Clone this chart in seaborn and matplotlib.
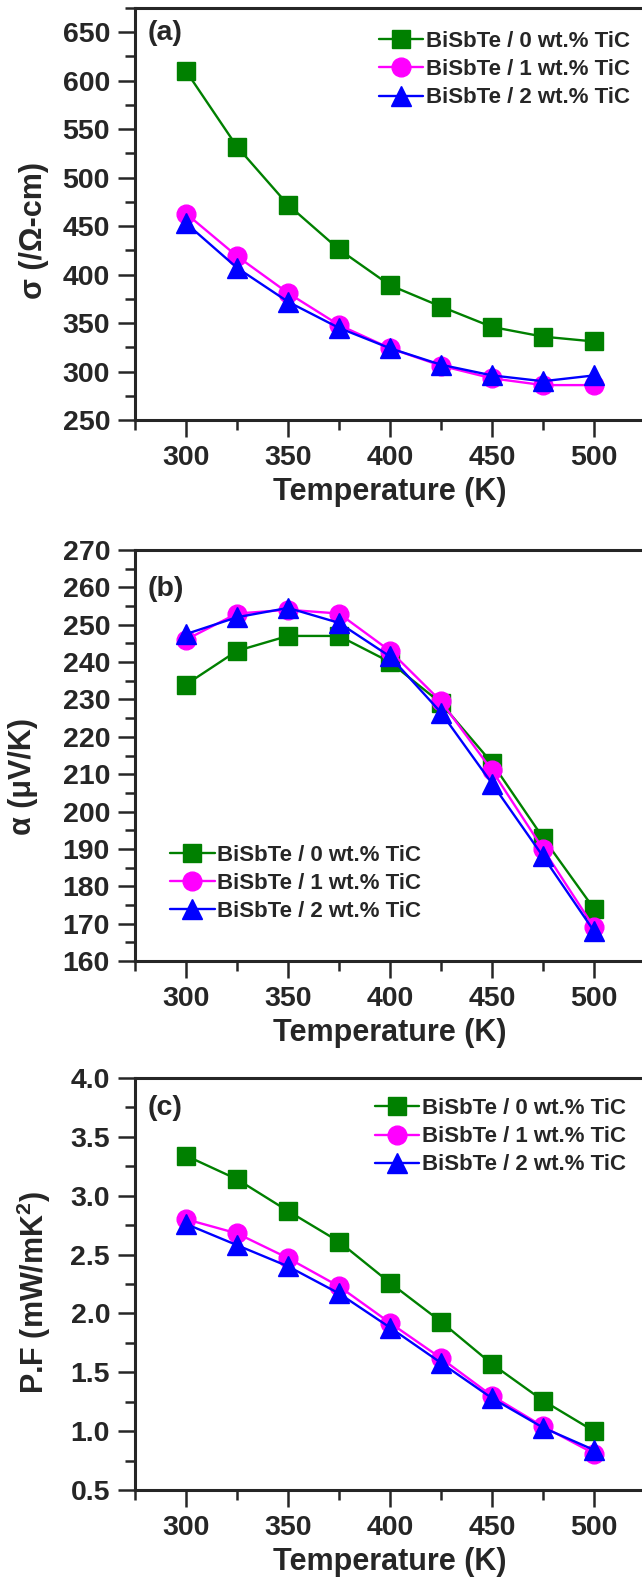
import numpy as np
import pandas as pd
import matplotlib
matplotlib.use('Agg')
import matplotlib.pyplot as plt
import seaborn as sns
from matplotlib.ticker import MultipleLocator

# datos
temperature = [300, 325, 350, 375, 400, 425, 450, 475, 500]
labels = ['BiSbTe / 0 wt.% TiC', 'BiSbTe / 1 wt.% TiC', 'BiSbTe / 2 wt.% TiC']

sigma_0 = [610, 532, 472, 426, 389, 367, 346, 336, 331]
sigma_1 = [463, 419, 381, 348, 324, 306, 293, 286, 286]
sigma_2 = [453, 407, 372, 345, 324, 307, 296, 290, 296]

alpha_0 = [234, 243, 247, 247, 240, 229, 213, 193, 174]
alpha_1 = [246, 253, 254, 253, 243, 229.5, 211, 190, 169]
alpha_2 = [247.5, 252, 254.5, 250.5, 241.5, 226.5, 207.5, 188, 168]

pf_0 = [3.34, 3.14, 2.87, 2.61, 2.26, 1.93, 1.57, 1.26, 1.00]
pf_1 = [2.80, 2.68, 2.47, 2.23, 1.92, 1.62, 1.30, 1.04, 0.81]
pf_2 = [2.76, 2.58, 2.40, 2.17, 1.88, 1.58, 1.28, 1.03, 0.84]

colors = ['#008000', '#ff00ff', '#0000ff']
markers = ['s', 'o', '^']
msizes = [13, 13.5, 15]

sns.set_style('ticks')
plt.rcParams['font.family'] = ['Liberation Sans', 'DejaVu Sans']
plt.rcParams['font.weight'] = 'bold'
plt.rcParams['axes.labelweight'] = 'bold'
plt.rcParams['mathtext.fontset'] = 'custom'
plt.rcParams['mathtext.rm'] = 'Liberation Sans:bold'
plt.rcParams['mathtext.bf'] = 'Liberation Sans:bold'

W, H = 642, 1580
fig = plt.figure(figsize=(W / 100, H / 100), dpi=100)


def make_axes(top_px, bottom_px):
    left = 135 / W
    width = 510 / W
    return fig.add_axes([left, 1 - bottom_px / H, width, (bottom_px - top_px) / H])


def draw_panel(ax, series, ylim, ymajor, yminor, ylabel, tag, tagy, leg_loc, leg_anchor, ylab_xy):
    for vals, lab, c, m, ms in zip(series, labels, colors, markers, msizes):
        df = pd.DataFrame({'T': temperature, 'v': vals})
        sns.lineplot(data=df, x='T', y='v', ax=ax, color=c, marker=m, markersize=ms,
                     markeredgecolor=c, markeredgewidth=1, linewidth=1.7, label=lab)
    ax.set_xlim(275, 525)
    ax.set_ylim(*ylim)
    ax.xaxis.set_major_locator(MultipleLocator(50))
    ax.xaxis.set_minor_locator(MultipleLocator(25))
    ax.yaxis.set_major_locator(MultipleLocator(ymajor))
    ax.yaxis.set_minor_locator(MultipleLocator(yminor))
    ax.tick_params(which='major', direction='out', length=12, width=1.8, labelsize=20.5, pad=6)
    ax.tick_params(which='minor', direction='out', length=7, width=1.8)
    ax.tick_params(axis='x', which='major', pad=6)
    ax.spines['right'].set_visible(False)
    for s in ax.spines.values():
        s.set_linewidth(2.2)
    ax.set_xlabel('Temperature (K)', fontsize=22, fontweight='bold', labelpad=4)
    ax.set_ylabel(ylabel, fontsize=22, fontweight='bold')
    ax.yaxis.set_label_coords(*ylab_xy)
    ax.text(0.024, tagy, tag, transform=ax.transAxes, fontsize=20.5, fontweight='bold',
            va='center', ha='left')
    leg = ax.legend(loc=leg_loc, bbox_to_anchor=leg_anchor, frameon=False, fontsize=16,
                    handlelength=2.0, handletextpad=0.12, labelspacing=0.32,
                    borderpad=0, borderaxespad=0)
    for t in leg.get_texts():
        t.set_fontweight('bold')


ax_a = make_axes(8, 420)
draw_panel(ax_a, [sigma_0, sigma_1, sigma_2], (250, 675), 50, 25,
           'σ (/Ω-cm)', '(a)', 0.939, 'upper right', (0.97, 0.944), (-0.168, 0.46))

ax_b = make_axes(550, 961)
draw_panel(ax_b, [alpha_0, alpha_1, alpha_2], (160, 270), 10, 5,
           'α (μV/K)', '(b)', 0.905, 'lower left', (0.069, 0.095), (-0.19, 0.45))

ax_c = make_axes(1078, 1490)
draw_panel(ax_c, [pf_0, pf_1, pf_2], (0.5, 4.0), 0.5, 0.25,
           'P.F (mW/mK$^{2}$)', '(c)', 0.927, 'upper right', (0.962, 0.951), (-0.16, 0.48))

fig.savefig('out.png', dpi=100)
